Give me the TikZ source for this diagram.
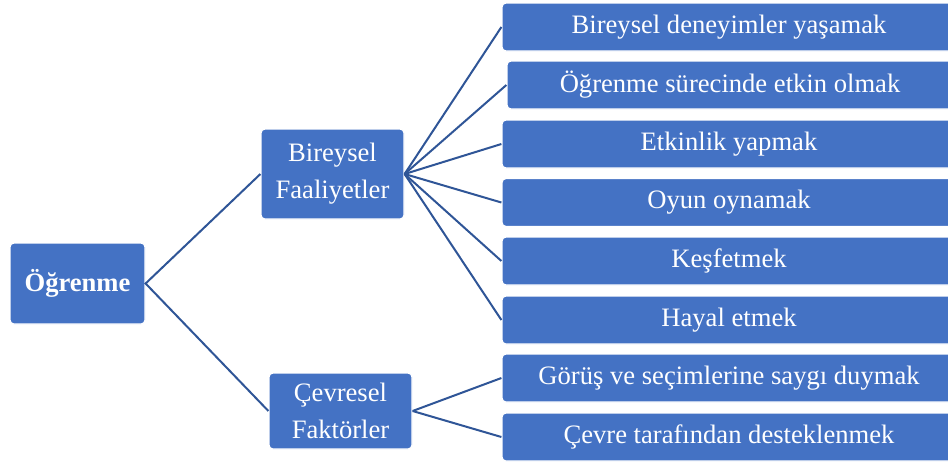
\documentclass[tikz,border=0pt]{standalone}
\usepackage{fontspec}
\setmainfont{Liberation Serif}
\usepackage{tikz}
\definecolor{boxblue}{RGB}{68, 114, 196}
\definecolor{lineblue}{RGB}{47, 85, 151}
\tikzset{
    box/.style={rectangle, fill=boxblue, draw=white, line width=0.6pt, rounded corners=2pt,
        text=white, align=center, inner sep=2pt,
        font=\fontsize{13.3}{18.5}\selectfont},
    rootbox/.style={box, minimum width=67.5pt, minimum height=40.5pt},
    midbox/.style={box, minimum width=71.5pt},
    leafbox/.style={box, minimum width=227pt, minimum height=24pt},
    link/.style={draw=lineblue, line width=1pt}
}
\begin{document}
\begin{tikzpicture}[x=0.5pt, y=-0.5pt]
    \clip (0,0) rectangle (948,461);
    \fill[white] (0,0) rectangle (948,461);

    \node[rootbox] (ogrenme) at (77.5,283.5) {\textbf{Öğrenme}};
    \node[midbox, minimum height=45pt] (bireysel) at (332.5,174) {Bireysel\\Faaliyetler};
    \node[midbox, minimum height=38pt] (cevresel) at (340.5,411) {Çevresel\\Faktörler};

    \node[leafbox] (deneyim) at (729,27) {Bireysel deneyimler yaşamak};
    \node[leafbox, minimum width=223pt] (etkin) at (730,85) {Öğrenme sürecinde etkin olmak};
    \node[leafbox] (etkinlik) at (729,144) {Etkinlik yapmak};
    \node[leafbox] (oyun) at (729,202.5) {Oyun oynamak};
    \node[leafbox] (kesfet) at (729,261) {Keşfetmek};
    \node[leafbox] (hayal) at (729,320) {Hayal etmek};
    \node[leafbox] (saygi) at (729,378) {Görüş ve seçimlerine saygı duymak};
    \node[leafbox] (destek) at (729,437) {Çevre tarafından desteklenmek};

    \draw[link] (bireysel.west) -- (ogrenme.east) -- (cevresel.west);
    \foreach \leaf in {deneyim, etkin, etkinlik, oyun, kesfet, hayal}
        \draw[link] (bireysel.east) -- (\leaf.west);
    \foreach \leaf in {saygi, destek}
        \draw[link] (cevresel.east) -- (\leaf.west);
\end{tikzpicture}
\end{document}
